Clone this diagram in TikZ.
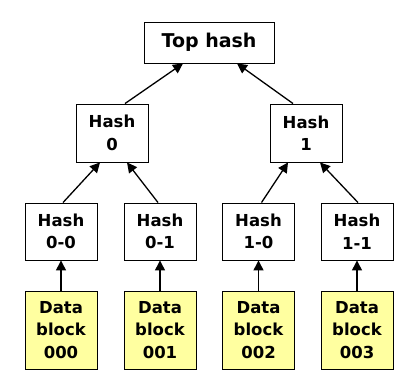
\documentclass[tikz,border=0pt]{standalone}
\usepackage{fontspec}
\setmainfont{DejaVu Sans}
\usetikzlibrary{arrows.meta,calc}
\definecolor{datafill}{RGB}{255,255,160}
\begin{document}
\begin{tikzpicture}[x=1pt,y=-1pt,
  box/.style={draw=black,line width=0.9pt,fill=white,inner sep=0pt,align=center,
    font=\fontsize{16.5}{22.5}\selectfont\bfseries,minimum width=72pt},
  hashbox/.style={box,minimum height=57pt},
  databox/.style={box,fill=datafill,minimum height=78pt},
  topbox/.style={box,minimum width=130pt,minimum height=41pt,font=\fontsize{19}{23}\selectfont\bfseries},
  conn/.style={line width=1.3pt,-{Triangle[length=10pt,width=10pt]}}]
\useasboundingbox (0,0) rectangle (420,390);
\fill[white] (0,0) rectangle (420,390);
\node[topbox] (top) at (209,42.5) {Top hash};
\node[hashbox,minimum height=58pt] (h0) at (112,133) {Hash\\0};
\node[hashbox,minimum height=58pt] (h1) at (306,133) {Hash\\1};
\node[hashbox] (h00) at (61,231.5) {Hash\\0-0};
\node[hashbox] (h01) at (160,231.5) {Hash\\0-1};
\node[hashbox] (h10) at (258.5,231.5) {Hash\\1-0};
\node[hashbox] (h11) at (357,231.5) {Hash\\1-1};
\node[databox] (d0) at (61,330) {Data\\block\\000};
\node[databox] (d1) at (160,330) {Data\\block\\001};
\node[databox] (d2) at (258.5,330) {Data\\block\\002};
\node[databox] (d3) at (357,330) {Data\\block\\003};
\draw[conn] ($(h0.north)+(13,0)$) -- ($(top.south)+(-26,0)$);
\draw[conn] ($(h1.north)+(-13,0)$) -- ($(top.south)+(28,0)$);
\draw[conn] ($(h00.north)+(2,0)$) -- ($(h0.south)+(-12,0)$);
\draw[conn] ($(h01.north)+(-2,0)$) -- ($(h0.south)+(15,0)$);
\draw[conn] ($(h10.north)+(3,0)$) -- ($(h1.south)+(-18,0)$);
\draw[conn] ($(h11.north)+(1,0)$) -- ($(h1.south)+(14,0)$);
\draw[conn] (d0) -- (h00);
\draw[conn] (d1) -- (h01);
\draw[conn] (d2) -- (h10);
\draw[conn] (d3) -- (h11);
\end{tikzpicture}
\end{document}
